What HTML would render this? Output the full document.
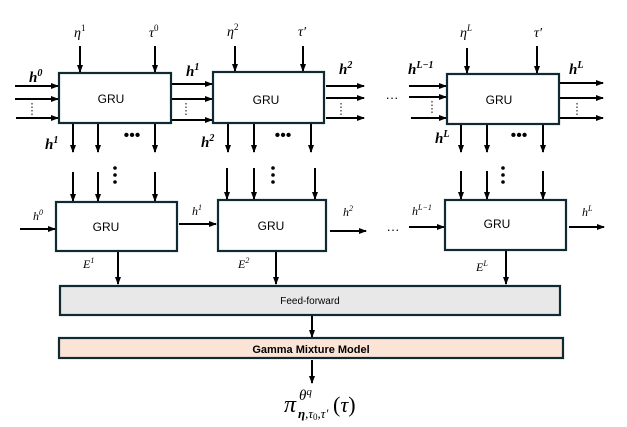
<!DOCTYPE html>
<html><head><style>body{margin:0;background:#fff}svg{display:block}</style></head><body>
<svg width="627" height="427" viewBox="0 0 627 427" xmlns="http://www.w3.org/2000/svg" font-family="Liberation Serif, serif">
<defs><marker id="a" markerWidth="8" markerHeight="8" refX="7" refY="4" orient="auto" markerUnits="userSpaceOnUse"><path d="M0,1 L8,4 L0,7 z" fill="#000"/></marker></defs>
<g stroke="#000" stroke-width="2" marker-end="url(#a)" fill="none">
<line x1="80" y1="46" x2="80" y2="72"/><line x1="155" y1="46" x2="155" y2="72"/>
<line x1="235" y1="46" x2="235" y2="71"/><line x1="303" y1="46" x2="303" y2="71"/>
<line x1="467" y1="48" x2="467" y2="73"/><line x1="537" y1="46" x2="537" y2="73"/>
<line x1="15" y1="86" x2="58" y2="86"/><line x1="15" y1="99" x2="58" y2="99"/><line x1="16" y1="118" x2="58" y2="118"/>
<line x1="172" y1="84" x2="212" y2="84"/><line x1="172" y1="99" x2="212" y2="99"/><line x1="172" y1="120" x2="212" y2="120"/>
<line x1="326" y1="86" x2="364" y2="86"/><line x1="326" y1="98" x2="364" y2="98"/><line x1="326" y1="118" x2="364" y2="118"/>
<line x1="409" y1="86" x2="446" y2="86"/><line x1="409" y1="97" x2="446" y2="97"/><line x1="411" y1="118" x2="446" y2="118"/>
<line x1="560" y1="83" x2="603" y2="83"/><line x1="560" y1="98" x2="603" y2="98"/><line x1="560" y1="118" x2="603" y2="118"/>
<line x1="73" y1="124" x2="73" y2="152"/><line x1="98" y1="124" x2="98" y2="152"/><line x1="155" y1="124" x2="155" y2="152"/>
<line x1="228" y1="124" x2="228" y2="152"/><line x1="254" y1="124" x2="254" y2="152"/><line x1="311" y1="124" x2="311" y2="152"/>
<line x1="461" y1="124" x2="461" y2="152"/><line x1="487" y1="124" x2="487" y2="152"/><line x1="543" y1="124" x2="543" y2="152"/>
<line x1="73" y1="172" x2="73" y2="201"/><line x1="98" y1="172" x2="98" y2="201"/><line x1="155" y1="172" x2="155" y2="201"/>
<line x1="227" y1="168" x2="227" y2="199"/><line x1="254" y1="168" x2="254" y2="199"/><line x1="315" y1="168" x2="315" y2="199"/>
<line x1="461" y1="171" x2="461" y2="199"/><line x1="487" y1="171" x2="487" y2="199"/><line x1="543" y1="171" x2="543" y2="199"/>
<line x1="20" y1="229" x2="55" y2="229"/><line x1="179" y1="224" x2="216" y2="224"/>
<line x1="330" y1="231" x2="366" y2="231"/><line x1="409" y1="227" x2="444" y2="227"/><line x1="569" y1="227" x2="604" y2="227"/>
<line x1="118" y1="252" x2="118" y2="284"/><line x1="276" y1="252" x2="276" y2="284"/><line x1="506" y1="251" x2="506" y2="284"/>
<line x1="312" y1="316" x2="312" y2="337"/><line x1="312" y1="360" x2="312" y2="383"/>
</g>
<g fill="#fff" stroke="#0f2a33" stroke-width="2.2">
<rect x="59" y="73" width="112" height="50"/><rect x="213" y="72" width="111" height="51"/><rect x="447" y="74" width="112" height="50"/>
<rect x="56" y="202" width="121" height="49"/><rect x="218" y="200" width="108" height="51"/><rect x="445" y="200" width="121" height="50"/>
<rect x="60" y="286" width="500" height="29" fill="#e8e8e8"/><rect x="59" y="338" width="504" height="20" fill="#fbe3d6"/>
</g>
<g font-family="Liberation Sans, sans-serif" font-size="12" text-anchor="middle">
<text x="111" y="103">GRU</text><text x="266" y="104">GRU</text><text x="499" y="104">GRU</text>
<text x="106" y="231">GRU</text><text x="271" y="230">GRU</text><text x="497" y="228">GRU</text>
<text x="310" y="304" font-size="10">Feed-forward</text>
<text x="311" y="353" font-size="11" font-weight="bold">Gamma Mixture Model</text>
</g>
<g font-style="italic" font-size="14">
<text x="74" y="37">η<tspan font-size="9" dy="-6" font-style="normal">1</tspan></text>
<text x="149" y="37">τ<tspan font-size="9" dy="-6" font-style="normal">0</tspan></text>
<text x="227" y="36">η<tspan font-size="9" dy="-6" font-style="normal">2</tspan></text>
<text x="298" y="36">τ′</text>
<text x="460" y="37">η<tspan font-size="9" dy="-6">L</tspan></text>
<text x="534" y="37">τ′</text>
</g>
<g font-style="italic" font-weight="bold" font-size="15">
<text x="29" y="82">h<tspan font-size="10" dy="-6">0</tspan></text>
<text x="186" y="76">h<tspan font-size="10" dy="-6">1</tspan></text>
<text x="339" y="74">h<tspan font-size="10" dy="-6">2</tspan></text>
<text x="408" y="74">h<tspan font-size="10" dy="-6">L−1</tspan></text>
<text x="569" y="74">h<tspan font-size="10" dy="-6">L</tspan></text>
<text x="45" y="149">h<tspan font-size="10" dy="-6">1</tspan></text>
<text x="201" y="147">h<tspan font-size="10" dy="-6">2</tspan></text>
<text x="435" y="143">h<tspan font-size="10" dy="-6">L</tspan></text>
</g>
<g font-style="italic" font-size="12">
<text x="33" y="220">h<tspan font-size="8" dy="-5">0</tspan></text>
<text x="192" y="215">h<tspan font-size="8" dy="-5">1</tspan></text>
<text x="343" y="216">h<tspan font-size="8" dy="-5">2</tspan></text>
<text x="412" y="215">h<tspan font-size="8" dy="-5">L−1</tspan></text>
<text x="582" y="216">h<tspan font-size="8" dy="-5">L</tspan></text>
<text x="83" y="268">E<tspan font-size="8" dy="-5">1</tspan></text>
<text x="238" y="268">E<tspan font-size="8" dy="-5">2</tspan></text>
<text x="476" y="271">E<tspan font-size="8" dy="-5">L</tspan></text>
</g>
<g font-size="16" font-family="Liberation Sans, sans-serif" text-anchor="middle">
<text x="132" y="140">•••</text><text x="283" y="140">•••</text><text x="519" y="140">•••</text>
<text x="392" y="102" font-size="13">···</text><text x="393" y="234" font-size="13">···</text>
</g>
<g fill="#000">
<circle cx="115" cy="168" r="1.8"/><circle cx="115" cy="175" r="1.8"/><circle cx="115" cy="182" r="1.8"/>
<circle cx="273" cy="168" r="1.8"/><circle cx="273" cy="175" r="1.8"/><circle cx="273" cy="182" r="1.8"/>
<circle cx="503" cy="168" r="1.8"/><circle cx="503" cy="175" r="1.8"/><circle cx="503" cy="182" r="1.8"/>
</g>
<g stroke="#000" stroke-width="1" stroke-dasharray="1.5,2">
<line x1="32" y1="103" x2="32" y2="115"/><line x1="186" y1="103" x2="186" y2="116"/><line x1="341" y1="103" x2="341" y2="115"/>
<line x1="432" y1="101" x2="432" y2="113"/><line x1="577" y1="103" x2="577" y2="115"/>
</g>
<text x="284" y="412" font-size="24" font-style="italic">π</text>
<text x="299" y="400" font-size="15" font-style="italic">θ<tspan font-size="11" dy="-5">q</tspan></text>
<text x="298" y="418" font-size="13" font-style="italic"><tspan font-weight="bold">η</tspan>,τ<tspan font-size="9" dy="2" font-style="normal">0</tspan><tspan dy="-2">,τ′</tspan></text>
<text x="333" y="412" font-size="22"><tspan>(</tspan><tspan font-style="italic">τ</tspan>)</text>
</svg>
</body></html>
